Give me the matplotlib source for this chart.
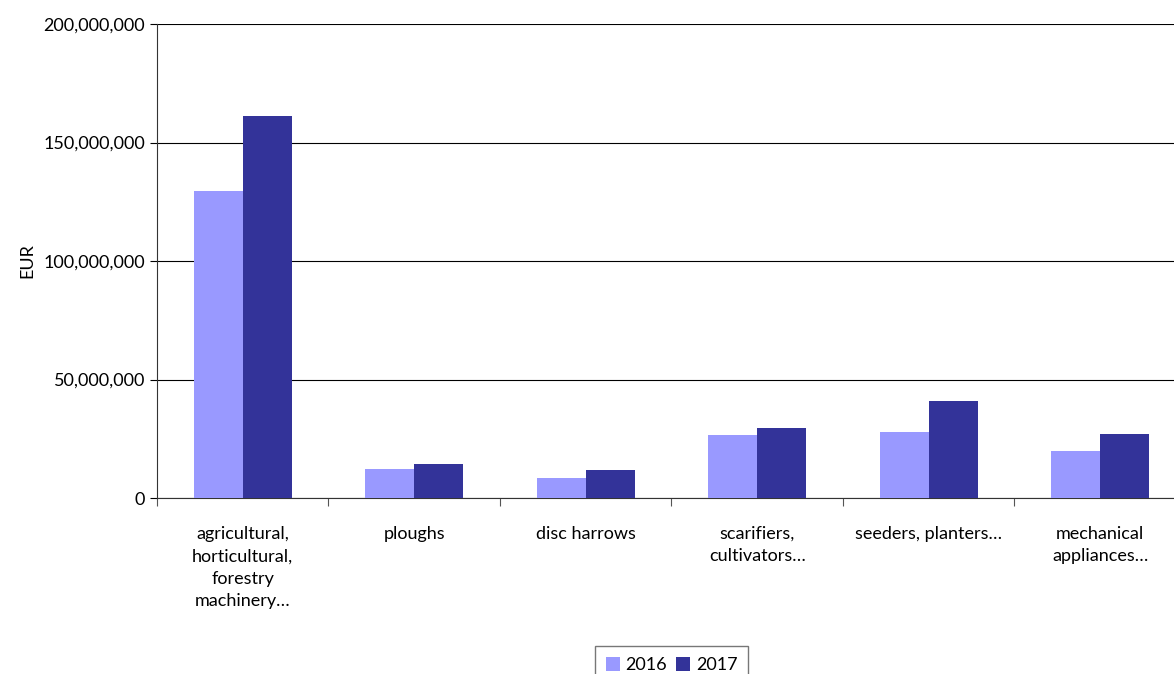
import matplotlib.pyplot as plt
import matplotlib.ticker as mticker
import numpy as np

categories = ["agricultural,\nhorticultural,\nforestry\nmachinery…", "ploughs", "disc harrows",
              "scarifiers,\ncultivators…", "seeders, planters…", "mechanical\nappliances…"]
years = ["2016", "2017"]
values_2016 = [129.6e6, 12.4e6, 8.6e6, 26.7e6, 28.0e6, 19.9e6]
values_2017 = [161.2e6, 14.3e6, 11.9e6, 29.7e6, 41.0e6, 27.1e6]

plt.rcParams['font.family'] = ['Lato', 'DejaVu Sans']

fig = plt.figure(figsize=(11.74, 6.74), dpi=100)
# the right part of the plot area is cut off in the original
ax = fig.add_axes([0.1337, 0.2611, 0.8765, 0.7033])

x = np.arange(len(categories))
w = 0.286
ax.bar(x - w/2, values_2016, w, color='#9999FF', label=years[0], zorder=3)
ax.bar(x + w/2, values_2017, w, color='#333399', label=years[1], zorder=3)

ax.set_xlim(-0.5, len(categories) - 0.5)
ax.set_ylim(0, 200e6)
ax.set_yticks(np.arange(0, 200e6 + 1, 50e6))
ax.yaxis.set_major_formatter(mticker.FuncFormatter(lambda v, p: f"{v:,.0f}"))
ax.yaxis.grid(True, color='black', linewidth=0.8, zorder=0)

ax.set_xticks(np.arange(len(categories) + 1) - 0.5)
ax.set_xticklabels([])
ax.set_xticks(x, minor=True)
ax.set_xticklabels(categories, minor=True, fontsize=13, linespacing=1.5, va='top')
ax.tick_params(axis='x', which='minor', length=0, pad=20)
ax.tick_params(axis='x', which='major', length=6, color='#555555')
ax.tick_params(axis='y', length=5, labelsize=13)

for s in ['top', 'right']:
    ax.spines[s].set_visible(False)
ax.spines['left'].set_color('#333333')
ax.spines['bottom'].set_color('#333333')

ax.set_ylabel("EUR", fontsize=13, labelpad=6)

fig.legend(loc='upper center', bbox_to_anchor=(0.572, 0.0415), ncol=2, fontsize=13,
           frameon=True, fancybox=False, edgecolor='#555555', handlelength=0.8,
           handleheight=0.8, handletextpad=0.3, columnspacing=0.5, borderpad=0.6,
           borderaxespad=0)

fig.savefig("out.png", dpi=100)
